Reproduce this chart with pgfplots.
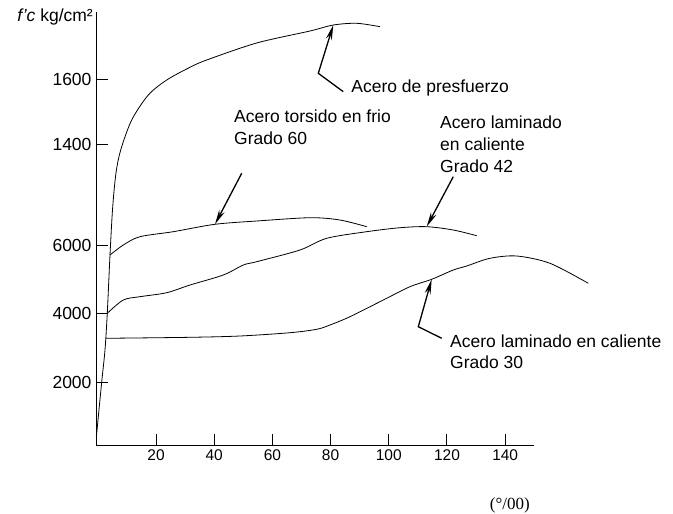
\documentclass[border=0pt]{standalone}
\usepackage{fontspec}
\setmainfont{Liberation Sans}
\newfontfamily\serifont{Liberation Serif}
\usepackage{pgfplots}
\pgfplotsset{compat=1.18}
\usetikzlibrary{arrows.meta}
\begin{document}
\begin{tikzpicture}
\useasboundingbox (0,0) rectangle (673pt,514pt);
\begin{axis}[
  at={(96pt,68.3pt)}, anchor=south west,
  scale only axis, width=438pt, height=433.7pt,
  xmin=-0.62, xmax=149.9, ymin=149, ymax=12813,
  axis x line=bottom, axis y line=left,
  axis line style={-, line width=1pt},
  tick align=inside,
  xtick={20,40,...,140},
  ytick={2000,4000,6000,8930,10830},
  yticklabels={2000,4000,6000,1400,1600},
  scaled y ticks=false, scaled x ticks=false,
  major tick length=12pt,
  tick style={line width=1pt, black},
  x tick label style={font=\fontsize{15.5}{18}\selectfont},
  y tick label style={font=\fontsize{17.5}{21}\selectfont, xshift=-1pt},
  /pgf/number format/assume math mode=true,
  clip=false,
  cycle list={{black, no markers}},
  every axis plot/.append style={line width=0.8pt, smooth, tension=0.5},
]
% Acero de presfuerzo
\addplot coordinates {(-0.5,403) (1.34,2009) (2.47,2943) (3.26,4024) (4.19,5717) (5.12,7119) (6.25,8112) (7.87,8783) (11.65,9659) (17.35,10389) (23.68,10827) (31.68,11198) (37.42,11411) (54.60,11908) (72.92,12258) (80.93,12433) (88.97,12483) (96.98,12384)};
% Acero torsido en frio Grado 60
\addplot coordinates {(4.19,5717) (8.76,6009) (14.50,6252) (25.95,6398) (40.27,6614) (54.60,6710) (72.92,6806) (83.2,6739) (92.41,6544)};
% Acero laminado en caliente Grado 42
\addplot coordinates {(3.26,4015) (8.76,4403) (14.50,4500) (23.68,4616) (31.68,4841) (43.13,5133) (50.00,5425) (54.60,5522) (69.48,5863) (78.66,6205) (92.41,6398) (103.85,6514) (113.02,6544) (122.16,6447) (130.21,6281)};
% Acero laminado en caliente Grado 30
\addplot coordinates {(2.82,3285) (31.68,3314) (48.87,3352) (66.05,3448) (75.22,3548) (79.79,3673) (86.67,3916) (98.11,4403) (107.29,4792) (114.74,5008) (122.16,5279) (126.77,5396) (134.78,5621) (143.95,5688) (155.40,5475) (168.56,4891)};

% annotations
\draw[line width=1.3pt, -{Stealth[length=15pt,width=6pt]}] (axis cs:84.36,10486) -- (axis cs:75.77,11023) -- (axis cs:80.93,12433);
\draw[line width=1.3pt, -{Stealth[length=15pt,width=6pt]}] (axis cs:49.45,8103) -- (axis cs:40.27,6614);
\draw[line width=1.3pt, -{Stealth[length=15pt,width=6pt]}] (axis cs:122.16,8004) -- (axis cs:113.02,6544);
\draw[line width=1.3pt, -{Stealth[length=15pt,width=6pt]}] (axis cs:118.18,3285) -- (axis cs:110.14,3624) -- (axis cs:114.74,5008);

\node[anchor=west, inner sep=0, font=\fontsize{17.5}{22}\selectfont] at (axis cs:87.08,10594) {Acero de presfuerzo};
\node[anchor=west, align=left, inner sep=0, font=\fontsize{17.5}{22}\selectfont] at (axis cs:46.8,9440) {Acero torsido en frio\\Grado 60};
\node[anchor=west, align=left, inner sep=0, font=\fontsize{17.5}{22}\selectfont] at (axis cs:117.6,8941) {Acero laminado\\en caliente\\Grado 42};
\node[anchor=west, align=left, inner sep=0, font=\fontsize{17.5}{21}\selectfont] at (axis cs:121.03,2885) {Acero laminado en caliente\\Grado 30};

\node[anchor=east, inner sep=0, font=\fontsize{17.5}{21}\selectfont] at (axis cs:-1.65,12667) {\textit{f'c} kg/cm²};
\node[inner sep=0, font=\serifont\fontsize{17}{20}\selectfont] at (axis cs:141.6,-1583) {(°/00)};
\end{axis}
\end{tikzpicture}
\end{document}
